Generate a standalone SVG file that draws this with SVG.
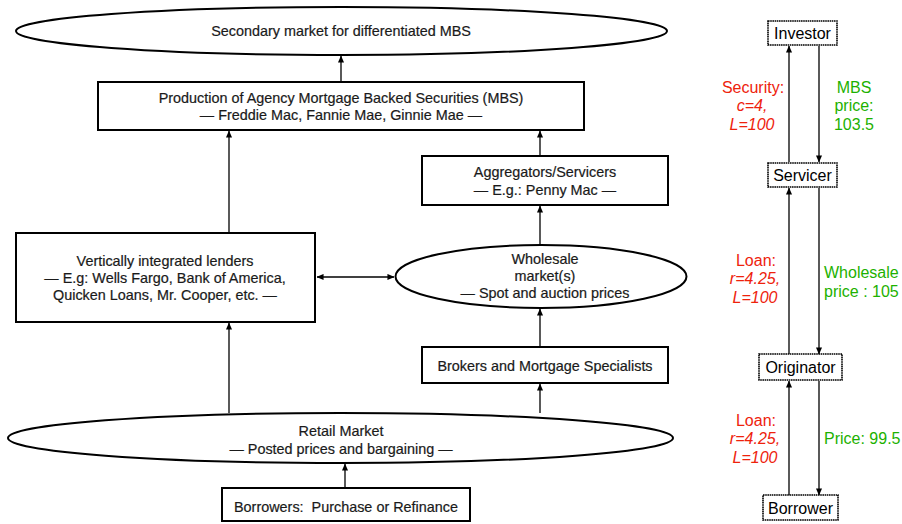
<svg xmlns="http://www.w3.org/2000/svg" width="902" height="524" viewBox="0 0 902 524">
<style>
  .box { fill: #fff; stroke: #000; stroke-width: 2; }
  .ell { fill: #fff; stroke: #000; stroke-width: 2; }
  .sk { fill: #fff; stroke: #000; stroke-width: 1.6; stroke-dasharray: 1.6 0.6; }
  .t { font-family: "Liberation Sans", Arial, sans-serif; font-size: 14.4px; fill: #1a1a1a; stroke: #1a1a1a; stroke-width: 0.2; text-anchor: middle; }
  .n { font-family: "Liberation Sans", Arial, sans-serif; font-size: 16px; fill: #000; text-anchor: middle; }
  .r { font-family: "Liberation Sans", Arial, sans-serif; font-size: 16px; fill: #EE220C; text-anchor: middle; }
  .g { font-family: "Liberation Sans", Arial, sans-serif; font-size: 16px; fill: #1DB100; }
  .gc { text-anchor: middle; }
  .i { font-style: italic; }
  .c { stroke: #000; stroke-width: 1.3; fill: none; }
</style>
<defs>
  <marker id="ah" viewBox="0 0 8 8" refX="7.5" refY="4" markerWidth="7" markerHeight="7" markerUnits="userSpaceOnUse" orient="auto-start-reverse">
    <path d="M0,0.5 L8,4 L0,7.5 z" fill="#000"/>
  </marker>
</defs>

<g id="connectors">
  <line class="c" x1="341" y1="82" x2="341" y2="56" marker-end="url(#ah)"/>
  <line class="c" x1="229" y1="233" x2="229" y2="131" marker-end="url(#ah)"/>
  <line class="c" x1="540" y1="156" x2="540" y2="131" marker-end="url(#ah)"/>
  <line class="c" x1="540" y1="245" x2="540" y2="206" marker-end="url(#ah)"/>
  <line class="c" x1="540" y1="347" x2="540" y2="309" marker-end="url(#ah)"/>
  <line class="c" x1="540" y1="413" x2="540" y2="384" marker-end="url(#ah)"/>
  <line class="c" x1="229" y1="413" x2="229" y2="323" marker-end="url(#ah)"/>
  <line class="c" x1="345" y1="488" x2="345" y2="464" marker-end="url(#ah)"/>
  <line class="c" x1="317" y1="277" x2="394" y2="277" marker-start="url(#ah)" marker-end="url(#ah)"/>
  <line class="c" x1="789" y1="162" x2="789" y2="46" marker-end="url(#ah)"/>
  <line class="c" x1="819" y1="46" x2="819" y2="162" marker-end="url(#ah)"/>
  <line class="c" x1="789" y1="354" x2="789" y2="188" marker-end="url(#ah)"/>
  <line class="c" x1="819" y1="188" x2="819" y2="354" marker-end="url(#ah)"/>
  <line class="c" x1="789" y1="495" x2="789" y2="381" marker-end="url(#ah)"/>
  <line class="c" x1="819" y1="381" x2="819" y2="495" marker-end="url(#ah)"/>
</g>

<g id="secondary-market">
  <ellipse class="ell" cx="341.5" cy="31" rx="325.5" ry="24"/>
  <text class="t" x="341" y="36">Secondary market for differentiated MBS</text>
</g>

<g id="mbs-production">
  <rect class="box" x="98" y="82" width="486" height="48"/>
  <text class="t" x="341" y="103">Production of Agency Mortgage Backed Securities (MBS)</text>
  <text class="t" x="341" y="120">— Freddie Mac, Fannie Mae, Ginnie Mae —</text>
</g>

<g id="aggregators">
  <rect class="box" x="422" y="156" width="246" height="49"/>
  <text class="t" x="545" y="177">Aggregators/Servicers</text>
  <text class="t" x="545" y="195">— E.g.: Penny Mac —</text>
</g>

<g id="vertical-lenders">
  <rect class="box" x="16" y="233" width="299" height="89"/>
  <text class="t" x="165" y="266">Vertically integrated lenders</text>
  <text class="t" x="165" y="283">— E.g: Wells Fargo, Bank of America,</text>
  <text class="t" x="165" y="300">Quicken Loans, Mr. Cooper, etc. —</text>
</g>

<g id="wholesale-market">
  <ellipse class="ell" cx="541" cy="276.5" rx="145.5" ry="31.5"/>
  <text class="t" x="545" y="264">Wholesale</text>
  <text class="t" x="545" y="281">market(s)</text>
  <text class="t" x="545" y="298">— Spot and auction prices</text>
</g>

<g id="brokers">
  <rect class="box" x="422" y="347" width="246" height="36"/>
  <text class="t" x="545" y="371">Brokers and Mortgage Specialists</text>
</g>

<g id="retail-market">
  <ellipse class="ell" cx="340.5" cy="438" rx="332.5" ry="25"/>
  <text class="t" x="341" y="436">Retail Market</text>
  <text class="t" x="341" y="454">— Posted prices and bargaining —</text>
</g>

<g id="borrowers">
  <rect class="box" x="222" y="488" width="248" height="33"/>
  <text class="t" x="346" y="512" xml:space="preserve">Borrowers:  Purchase or Refinance</text>
</g>

<g id="investor">
  <rect class="sk" x="768" y="21" width="69" height="24"/>
  <text class="n" x="802.5" y="39">Investor</text>
</g>

<g id="servicer">
  <rect class="sk" x="768" y="163" width="69" height="24"/>
  <text class="n" x="802.5" y="181">Servicer</text>
</g>

<g id="originator">
  <rect class="sk" x="759" y="354" width="83" height="26"/>
  <text class="n" x="800.5" y="373">Originator</text>
</g>

<g id="borrower">
  <rect class="sk" x="763" y="495" width="75" height="25"/>
  <text class="n" x="800.5" y="514">Borrower</text>
</g>

<g id="labels">
  <text class="r" x="753" y="93">Security:</text>
  <text class="r i" x="752" y="111">c=4,</text>
  <text class="r i" x="752" y="130">L=100</text>
  <text class="g gc" x="854" y="93">MBS</text>
  <text class="g gc" x="854" y="111">price:</text>
  <text class="g gc" x="854" y="130">103.5</text>

  <text class="r" x="756" y="266">Loan:</text>
  <text class="r i" x="755" y="284">r=4.25,</text>
  <text class="r i" x="755" y="303">L=100</text>
  <text class="g" x="824" y="278">Wholesale</text>
  <text class="g" x="824" y="297">price : 105</text>

  <text class="r" x="756" y="426">Loan:</text>
  <text class="r i" x="755" y="444">r=4.25,</text>
  <text class="r i" x="755" y="463">L=100</text>
  <text class="g" x="824" y="444">Price: 99.5</text>
</g>
</svg>
